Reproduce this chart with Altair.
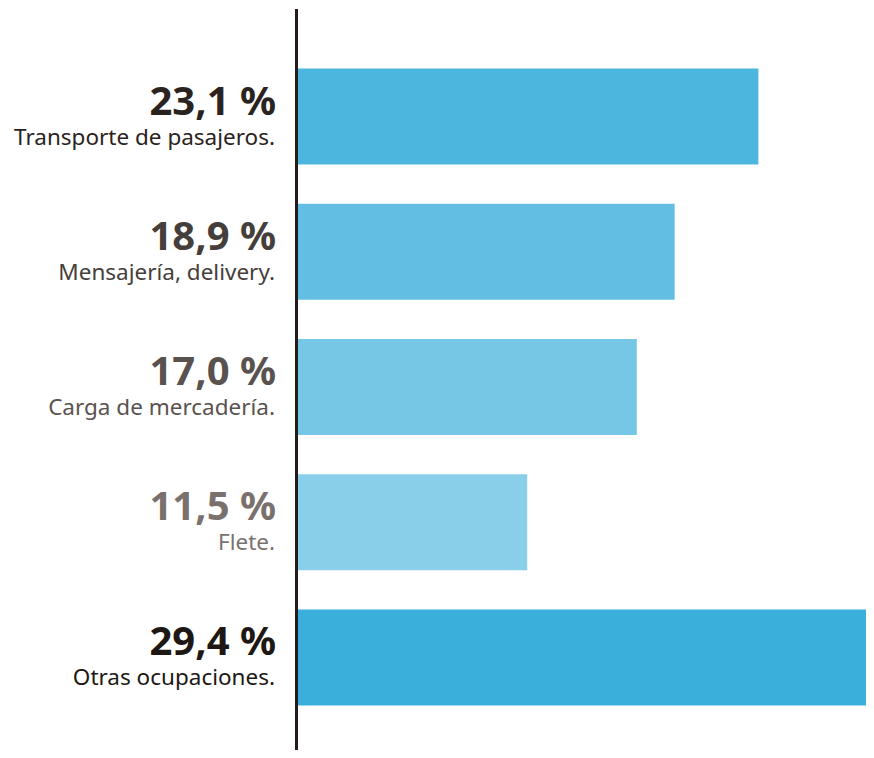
import altair as alt
import pandas as pd

categories = [
    "Transporte de pasajeros.",
    "Mensajería, delivery.",
    "Carga de mercadería.",
    "Flete.",
    "Otras ocupaciones.",
]
values = [23.1, 18.9, 17.0, 11.5, 29.4]

bar_colors = ["#4db6df", "#63bee4", "#76c6e6", "#8acfea", "#3aafdc"]
text_colors = ["#2b2320", "#463e3b", "#5a524f", "#7a716e", "#1e1714"]

df = pd.DataFrame({"cat": categories, "value": values})
df["pct"] = df["value"].map(lambda v: f"{v:.1f}".replace(".", ",") + " %")

FONT = "Noto Sans"
PLOT_H = 741
PLOT_W = 568

y = alt.Y(
    "cat:N",
    sort=categories,
    axis=None,
    scale=alt.Scale(paddingInner=0.29, paddingOuter=0.3845, align=0.572),
)
x = alt.X("value:Q", axis=None, scale=alt.Scale(domain=[0, 28.5], nice=False, zero=True))

bars = alt.Chart(df).mark_bar(clip=True).encode(
    x=x,
    y=y,
    color=alt.Color("cat:N", scale=alt.Scale(domain=categories, range=bar_colors), legend=None),
)

pct_text = alt.Chart(df).mark_text(
    align="right", baseline="alphabetic", font=FONT, fontSize=40, fontWeight="bold", dy=-2
).encode(
    x=alt.value(-22),
    y=y,
    text="pct:N",
    color=alt.Color("cat:N", scale=alt.Scale(domain=categories, range=text_colors), legend=None),
)

cat_text = alt.Chart(df).mark_text(
    align="right", baseline="alphabetic", font=FONT, fontSize=22.5, dy=28
).encode(
    x=alt.value(-23),
    y=y,
    text="cat:N",
    color=alt.Color("cat:N", scale=alt.Scale(domain=categories, range=text_colors), legend=None),
)

axis_line = alt.Chart(df).mark_rule(color="#231c19", strokeWidth=3).encode(
    x=alt.value(-1.5), y=alt.value(0), y2=alt.value(PLOT_H)
)

chart = (
    alt.layer(bars, pct_text, cat_text, axis_line)
    .resolve_scale(color="independent")
    .properties(
        width=PLOT_W,
        height=PLOT_H,
        autosize=alt.AutoSizeParams(type="none"),
        padding={"left": 290, "top": 1, "right": 0, "bottom": 0},
    )
    .configure_view(stroke=None)
)

chart.save("out.html", embed_options={"renderer": "svg", "actions": False})
